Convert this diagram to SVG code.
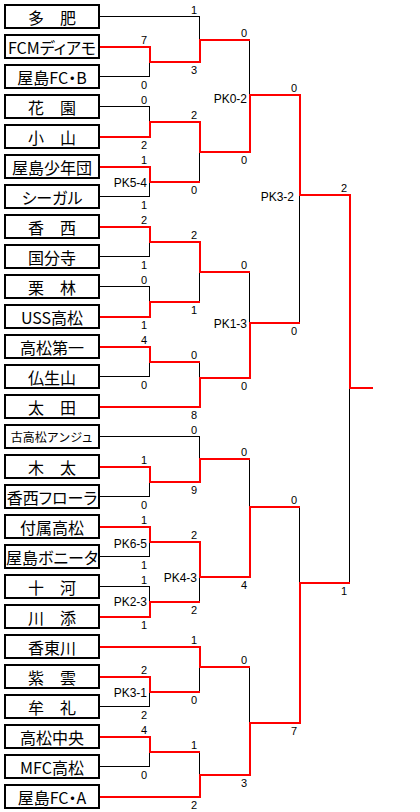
<svg xmlns="http://www.w3.org/2000/svg" width="420" height="812" viewBox="0 0 420 812">
<style>
.box{fill:#fff;stroke:#000;stroke-width:2}
.nm{font-family:"Noto Sans CJK JP","Noto Sans CJK SC",sans-serif;font-size:16px;text-anchor:middle;fill:#000}
.kn{font-feature-settings:"palt"}
.sm{font-size:12px}
.sc{font-family:"Liberation Sans",Arial,sans-serif;font-size:11px;text-anchor:middle;fill:#000}
.pk{font-family:"Liberation Sans",Arial,sans-serif;font-size:12px;text-anchor:end;fill:#000}
.blk{fill:none;stroke:#000;stroke-width:1}
.red{fill:none;stroke:#f00;stroke-width:2;stroke-linejoin:miter}
</style>
<rect width="420" height="812" fill="#fff"/>
<g id="teams">
<g id="t0"><rect class="box" x="5" y="5" width="94" height="23"/><text class="nm" x="52" y="23.5">多　肥</text></g>
<g id="t1"><rect class="box" x="5" y="35" width="94" height="23"/><text class="nm kn" x="52" y="53.5">FCMディアモ</text></g>
<g id="t2"><rect class="box" x="5" y="65" width="94" height="23"/><text class="nm kn" x="52" y="83.5">屋島FC・B</text></g>
<g id="t3"><rect class="box" x="5" y="95" width="94" height="23"/><text class="nm" x="52" y="113.5">花　園</text></g>
<g id="t4"><rect class="box" x="5" y="125" width="94" height="23"/><text class="nm" x="52" y="143.5">小　山</text></g>
<g id="t5"><rect class="box" x="5" y="155" width="94" height="23"/><text class="nm" x="52" y="173.5">屋島少年団</text></g>
<g id="t6"><rect class="box" x="5" y="185" width="94" height="23"/><text class="nm kn" x="52" y="203.5">シーガル</text></g>
<g id="t7"><rect class="box" x="5" y="215" width="94" height="23"/><text class="nm" x="52" y="233.5">香　西</text></g>
<g id="t8"><rect class="box" x="5" y="245" width="94" height="23"/><text class="nm" x="52" y="263.5">国分寺</text></g>
<g id="t9"><rect class="box" x="5" y="275" width="94" height="23"/><text class="nm" x="52" y="293.5">栗　林</text></g>
<g id="t10"><rect class="box" x="5" y="305" width="94" height="23"/><text class="nm" x="52" y="323.5">USS高松</text></g>
<g id="t11"><rect class="box" x="5" y="335" width="94" height="23"/><text class="nm" x="52" y="353.5">高松第一</text></g>
<g id="t12"><rect class="box" x="5" y="365" width="94" height="23"/><text class="nm" x="52" y="383.5">仏生山</text></g>
<g id="t13"><rect class="box" x="5" y="395" width="94" height="23"/><text class="nm" x="52" y="413.5">太　田</text></g>
<g id="t14"><rect class="box" x="5" y="425" width="94" height="23"/><text class="nm sm" x="52" y="442">古高松アンジュ</text></g>
<g id="t15"><rect class="box" x="5" y="455" width="94" height="23"/><text class="nm" x="52" y="473.5">木　太</text></g>
<g id="t16"><rect class="box" x="5" y="485" width="94" height="23"/><text class="nm kn" x="52" y="503.5">香西フローラ</text></g>
<g id="t17"><rect class="box" x="5" y="515" width="94" height="23"/><text class="nm" x="52" y="533.5">付属高松</text></g>
<g id="t18"><rect class="box" x="5" y="545" width="94" height="23"/><text class="nm kn" x="52" y="563.5">屋島ボニータ</text></g>
<g id="t19"><rect class="box" x="5" y="575" width="94" height="23"/><text class="nm" x="52" y="593.5">十　河</text></g>
<g id="t20"><rect class="box" x="5" y="605" width="94" height="23"/><text class="nm" x="52" y="623.5">川　添</text></g>
<g id="t21"><rect class="box" x="5" y="635" width="94" height="23"/><text class="nm" x="52" y="653.5">香東川</text></g>
<g id="t22"><rect class="box" x="5" y="665" width="94" height="23"/><text class="nm" x="52" y="683.5">紫　雲</text></g>
<g id="t23"><rect class="box" x="5" y="695" width="94" height="23"/><text class="nm" x="52" y="713.5">牟　礼</text></g>
<g id="t24"><rect class="box" x="5" y="725" width="94" height="23"/><text class="nm" x="52" y="743.5">高松中央</text></g>
<g id="t25"><rect class="box" x="5" y="755" width="94" height="23"/><text class="nm" x="52" y="773.5">MFC高松</text></g>
<g id="t26"><rect class="box" x="5" y="785" width="94" height="23"/><text class="nm kn" x="52" y="803.5">屋島FC・A</text></g>
</g>
<g id="connectors">
<path class="blk" d="M100,16.5H200M100,76.5H150M100,106.5H150M100,196.5H150M100,256.5H150M100,286.5H150M100,376.5H150M100,436.5H200M100,496.5H150M100,556.5H150M100,586.5H150M100,706.5H150M100,766.5H150"/>
<path class="blk" d="M149.5,62V77M149.5,106.5V122M149.5,182V197M149.5,242V257M149.5,286.5V302M149.5,362V377M149.5,482V497M149.5,542V557M149.5,586.5V602M149.5,692V707M149.5,752V767"/>
<path class="blk" d="M199.5,16.5V40M199.5,152V182M199.5,272V302M199.5,362V378M199.5,436.5V459M199.5,577V602M199.5,667V692M199.5,752V775"/>
<path class="blk" d="M249.5,40V95M249.5,272V323M249.5,459V507M249.5,667V723M299.5,195V323M299.5,507V583M349.5,388V583"/>
<path class="red" d="M100,47H150V62H200V40H250"/>
<path class="red" d="M100,137H150V122H200V152H250V95H300V195H350V388H373"/>
<path class="red" d="M100,167H150V182H200"/>
<path class="red" d="M100,227H150V242H200V272H250"/>
<path class="red" d="M100,317H150V302H200"/>
<path class="red" d="M100,347H150V362H200"/>
<path class="red" d="M100,407H200V378H250V323H300"/>
<path class="red" d="M100,467H150V482H200V459H250"/>
<path class="red" d="M100,527H150V542H200V577H250V507H300"/>
<path class="red" d="M100,617H150V602H200"/>
<path class="red" d="M100,647H200V667H250"/>
<path class="red" d="M100,677H150V692H200"/>
<path class="red" d="M100,737H150V752H200"/>
<path class="red" d="M100,797H200V775H250V723H300V583H350"/>
</g>
<g id="scores">
<text class="sc" x="144" y="44">7</text><text class="sc" x="144" y="89">0</text>
<text class="sc" x="144" y="104">0</text><text class="sc" x="144" y="149">2</text>
<text class="sc" x="144" y="164">1</text><text class="sc" x="144" y="209">1</text>
<text class="sc" x="144" y="224">2</text><text class="sc" x="144" y="269">1</text>
<text class="sc" x="144" y="284">0</text><text class="sc" x="144" y="329">1</text>
<text class="sc" x="144" y="344">4</text><text class="sc" x="144" y="389">0</text>
<text class="sc" x="144" y="464">1</text><text class="sc" x="144" y="509">0</text>
<text class="sc" x="144" y="524">1</text><text class="sc" x="144" y="569">1</text>
<text class="sc" x="144" y="584">1</text><text class="sc" x="144" y="629">1</text>
<text class="sc" x="144" y="674">2</text><text class="sc" x="144" y="719">2</text>
<text class="sc" x="144" y="734">4</text><text class="sc" x="144" y="779">0</text>
<text class="sc" x="194" y="14">1</text><text class="sc" x="194" y="74">3</text>
<text class="sc" x="194" y="119">2</text><text class="sc" x="194" y="194">0</text>
<text class="sc" x="194" y="239">2</text><text class="sc" x="194" y="314">1</text>
<text class="sc" x="194" y="359">0</text><text class="sc" x="194" y="419">8</text>
<text class="sc" x="194" y="434">0</text><text class="sc" x="194" y="494">9</text>
<text class="sc" x="194" y="539">2</text><text class="sc" x="194" y="614">2</text>
<text class="sc" x="194" y="644">1</text><text class="sc" x="194" y="704">0</text>
<text class="sc" x="194" y="749">1</text><text class="sc" x="194" y="809">2</text>
<text class="sc" x="244" y="37">0</text><text class="sc" x="244" y="164">0</text>
<text class="sc" x="244" y="269">0</text><text class="sc" x="244" y="390">0</text>
<text class="sc" x="244" y="456">0</text><text class="sc" x="244" y="589">4</text>
<text class="sc" x="244" y="664">0</text><text class="sc" x="244" y="787">3</text>
<text class="sc" x="294" y="92">0</text><text class="sc" x="294" y="335">0</text>
<text class="sc" x="294" y="504">0</text><text class="sc" x="294" y="735">7</text>
<text class="sc" x="344" y="192">2</text><text class="sc" x="344" y="595">1</text>
<text class="pk" x="147" y="187">PK5-4</text>
<text class="pk" x="147" y="547.5">PK6-5</text>
<text class="pk" x="147" y="606">PK2-3</text>
<text class="pk" x="147" y="697">PK3-1</text>
<text class="pk" x="197" y="582">PK4-3</text>
<text class="pk" x="247" y="103">PK0-2</text>
<text class="pk" x="247" y="328">PK1-3</text>
<text class="pk" x="294" y="201">PK3-2</text>
</g>
</svg>
